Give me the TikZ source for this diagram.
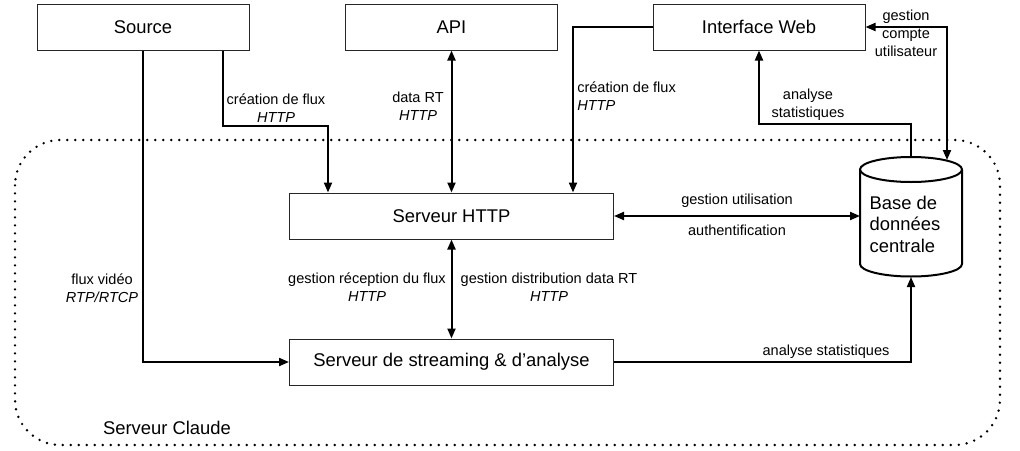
\documentclass[tikz,border=0pt]{standalone}
\usepackage{fontspec}
\setmainfont{Liberation Sans}
\usetikzlibrary{arrows.meta}
\newcommand\fsbig{\fontsize{13.8}{16.1}\selectfont}
\newcommand\fssmall{\fontsize{10.9}{13.7}\selectfont}
\begin{document}
\begin{tikzpicture}[x=0.75pt,y=-0.75pt,
  box/.style={draw=black!85, line width=0.75pt, minimum width=159pt, minimum height=34.5pt, inner sep=0pt, font=\fsbig},
  widebox/.style={box, minimum width=243pt},
  conn/.style={line width=1.5pt},
  arr/.style={conn, -{Triangle[length=7.5pt,width=6pt]}},
  darr/.style={conn, {Triangle[length=7.5pt,width=6pt]}-{Triangle[length=7.5pt,width=6pt]}},
  lbl/.style={font=\fssmall, align=center, inner sep=0pt},
  dbline/.style={line width=1.5pt},
  cloud/.style={line width=2pt, dash pattern=on 0pt off 6pt, line cap=round, rounded corners=34pt}]
\useasboundingbox (0,0) rectangle (1020,450);

% server boundary
\draw[cloud] (15,140) rectangle (1000,445);
\node[font=\fsbig, inner sep=0pt] (cl) at (167,428) {Serveur Claude};

% boxes
\node[box] (src) at (143,27) {Source};
\node[box] (api) at (451.5,27) {API};
\node[box] (web) at (759,27) {Interface Web};
\node[widebox] (http) at (451.5,216) {Serveur HTTP};
\node[widebox] (strm) at (451.5,362) {Serveur de streaming \& d’analyse};

% database cylinder
\draw[dbline] (860,170) -- (860,264) arc[start angle=180, end angle=0, x radius=51, y radius=12.5] -- (962,170);
\draw[dbline] (911,169.5) ellipse[x radius=51, y radius=12.5];
\node[font=\fsbig, align=left, inner sep=0pt] (db) at (905,224) {Base de\\données\\centrale};
\coordinate (dbT) at (911,157);
\coordinate (dbTR) at (947,160);
\coordinate (dbL) at (860,216);
\coordinate (dbB) at (911,277);

% bend points
\coordinate (b1) at (223,126);
\coordinate (b2) at (328,126);
\coordinate (b3) at (573,27);
\coordinate (b4) at (911,124);
\coordinate (b5) at (947,27);

% connectors
\draw[arr] (src.south) |- (strm.west);
\draw[arr] (src.south -| b1) -- (b1) -- (b2) -- (b2 |- http.north);
\draw[darr] (api.south) -- (http.north);
\draw[arr] (web.west) -- (b3) -- (b3 |- http.north);
\draw[arr] (dbT) -- (b4) -| (web.south);
\draw[darr] (web.east) -- (b5) -- (dbTR);
\draw[darr] (http.east) -- (dbL);
\draw[darr] (http.south) -- (strm.north);
\draw[arr] (strm.east) -| (dbB);

% labels
\node[lbl] (l1) at (276,108) {création de flux\\\textit{HTTP}};
\node[lbl] (l2) at (418,106.5) {data RT\\\textit{HTTP}};
\node[lbl, align=left, anchor=west] (l3) at (577,96.5) {création de flux\\\textit{HTTP}};
\node[lbl] (l4) at (808,104.5) {analyse\\statistiques};
\node[lbl] (l5) at (906,33.5) {gestion\\compte\\utilisateur};
\node[lbl] (l6) at (737,201) {gestion utilisation};
\node[lbl] (l7) at (737,230) {authentification};
\node[lbl] (l8) at (826,352) {analyse statistiques};
\node[lbl] (l9) at (367,287) {gestion réception du flux\\\textit{HTTP}};
\node[lbl] (l10) at (549,287) {gestion distribution data RT\\\textit{HTTP}};
\node[lbl] (l11) at (102,288) {flux vidéo\\\textit{RTP/RTCP}};
\end{tikzpicture}
\end{document}
